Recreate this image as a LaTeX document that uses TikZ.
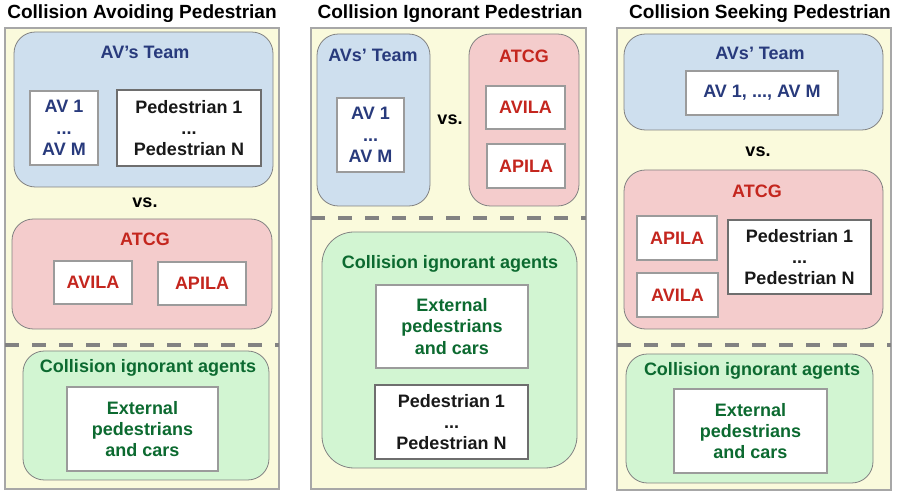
\documentclass[tikz,border=0pt]{standalone}
\usepackage{fontspec}
\setmainfont{Liberation Sans}
\usepackage{xcolor}
\usepackage{tikz}
\usetikzlibrary{positioning}
\definecolor{panelYellow}{HTML}{FAFADC}
\definecolor{teamBlue}{HTML}{CEDFEE}
\definecolor{atcgRed}{HTML}{F4CCCC}
\definecolor{ignGreen}{HTML}{D2F5D2}
\definecolor{edgeGray}{HTML}{828282}
\definecolor{txtBlue}{HTML}{283A7C}
\definecolor{txtRed}{HTML}{C4261E}
\definecolor{txtGreen}{HTML}{0C6A30}
\newcommand{\titlefont}{\fontsize{14.3}{17}\selectfont\bfseries}
\newcommand{\cellfont}{\fontsize{13.5}{16}\selectfont\bfseries}
\tikzstyle{panel} = [rectangle, draw = edgeGray!70, fill = panelYellow, line width = 0.8pt]
\tikzstyle{team} = [rectangle, rounded corners = 16pt, draw = edgeGray, fill = teamBlue, line width = 0.6pt]
\tikzstyle{atcg} = [team, fill = atcgRed]
\tikzstyle{ign} = [team, fill = ignGreen]
\tikzstyle{cell} = [rectangle, draw = edgeGray!80, fill = white, line width = 0.8pt, align = center, font = \cellfont]
\tikzstyle{pedcell} = [cell, draw = edgeGray!85!black, line width = 2pt, text = black!90]
\tikzstyle{lbl} = [font = \cellfont]
\tikzstyle{title} = [font = \titlefont]
\tikzstyle{sep} = [line width = 3pt, draw = edgeGray, dash pattern = on 10.5pt off 9.75pt]

\begin{document}
\begin{tikzpicture}[x = 0.75pt, y = -0.75pt]
        \useasboundingbox (0,0) rectangle (907,491);
        % three panels
        \node(panel1) [panel, minimum width = 205.5pt, minimum height = 345.75pt] at (142,258.5) {};
        \node(panel2) [panel, minimum width = 206.25pt, minimum height = 345.75pt] at (448.5,258.5) {};
        \node(panel3) [panel, minimum width = 205.5pt, minimum height = 346.5pt] at (754,259) {};
        \node(title1) [title] at (142,14) {Collision Avoiding Pedestrian};
        \node(title2) [title] at (450,14) {Collision Ignorant Pedestrian};
        \node(title3) [title] at (760,14) {Collision Seeking Pedestrian};
        \coordinate(sepL1) at (5,345);
        \coordinate(sepR1) at (279,345);
        \coordinate(sepL2) at (311,218);
        \coordinate(sepR2) at (586,218);
        \coordinate(sepL3) at (617,345);
        \coordinate(sepR3) at (891,345);
        \draw[sep] (sepL1) -- (sepR1);
        \draw[sep] (sepL2) -- (sepR2);
        \draw[sep] (sepL3) -- (sepR3);

        % panel 1
        \node(team1) [team, minimum width = 194.25pt, minimum height = 116.25pt] at (143.5,109.5) {};
        \node(team1lbl) [lbl, text = txtBlue] at (145,52) {AV’s Team};
        \node(av1) [cell, text = txtBlue, minimum width = 51pt, minimum height = 55.5pt] at (64,128) {AV 1\\...\\AV M};
        \node(ped1) [pedcell, minimum width = 108pt, minimum height = 57pt] at (189,128) {Pedestrian 1\\...\\Pedestrian N};
        \node(vs1) [lbl] at (145,203) {vs.};
        \node(atcg1) [atcg, minimum width = 195pt, minimum height = 82.5pt] at (142,274) {};
        \node(atcg1lbl) [lbl, text = txtRed] at (145,239) {ATCG};
        \node(avila1) [cell, text = txtRed, minimum width = 58.5pt, minimum height = 32.25pt] at (93,282.5) {AVILA};
        \node(apila1) [cell, text = txtRed, minimum width = 66pt, minimum height = 32.25pt] at (202,283.5) {APILA};
        \node(ign1) [ign, minimum width = 184.5pt, minimum height = 96.75pt] at (146,415.5) {};
        \node(ign1lbl) [lbl, text = txtGreen] at (148,368) {Collision ignorant agents};
        \node(ext1) [cell, text = txtGreen, minimum width = 113.25pt, minimum height = 63pt] at (142.5,429) {External\\pedestrians\\and cars};

        % panel 2
        \node(team2) [team, minimum width = 84.75pt, minimum height = 129pt] at (373.5,120) {};
        \node(team2lbl) [lbl, text = txtBlue] at (373,55) {AVs’ Team};
        \node(av2) [cell, text = txtBlue, minimum width = 50.25pt, minimum height = 55.5pt] at (370.5,135) {AV 1\\...\\AV M};
        \node(vs2) [lbl] at (450,120) {vs.};
        \node(atcg2) [atcg, minimum width = 82.5pt, minimum height = 129pt] at (524,120) {};
        \node(atcg2lbl) [lbl, text = txtRed] at (524,56) {ATCG};
        \node(avila2) [cell, text = txtRed, minimum width = 59.25pt, minimum height = 32.25pt] at (525.5,107.5) {AVILA};
        \node(apila2) [cell, text = txtRed, minimum width = 58.5pt, minimum height = 33pt] at (526,166) {APILA};
        \node(ign2) [ign, rounded corners = 24pt, minimum width = 191.25pt, minimum height = 177pt] at (449.5,350) {};
        \node(ign2lbl) [lbl, text = txtGreen] at (450,264) {Collision ignorant agents};
        \node(ext2) [cell, text = txtGreen, minimum width = 114pt, minimum height = 62.25pt] at (452,326.5) {External\\pedestrians\\and cars};
        \node(ped2) [pedcell, minimum width = 114.75pt, minimum height = 55.5pt] at (451.5,422) {Pedestrian 1\\...\\Pedestrian N};

        % panel 3
        \node(team3) [team, minimum width = 194.25pt, minimum height = 72pt] at (753.5,82) {};
        \node(team3lbl) [lbl, text = txtBlue] at (760,53) {AVs’ Team};
        \node(av3) [cell, text = txtBlue, minimum width = 114pt, minimum height = 33pt] at (762,93) {AV 1, ..., AV M};
        \node(vs3) [lbl] at (758,152) {vs.};
        \node(atcg3) [atcg, minimum width = 194.25pt, minimum height = 119.25pt] at (753.5,249.5) {};
        \node(atcg3lbl) [lbl, text = txtRed] at (757,191) {ATCG};
        \node(apila3) [cell, text = txtRed, minimum width = 60pt, minimum height = 33pt] at (677,238) {APILA};
        \node(avila3) [cell, text = txtRed, minimum width = 60.75pt, minimum height = 33pt] at (677.5,295) {AVILA};
        \node(ped3) [pedcell, minimum width = 107.25pt, minimum height = 55.5pt] at (799.5,257) {Pedestrian 1\\...\\Pedestrian N};
        \node(ign3) [ign, minimum width = 185.25pt, minimum height = 96.75pt] at (749.5,418.5) {};
        \node(ign3lbl) [lbl, text = txtGreen] at (752,371) {Collision ignorant agents};
        \node(ext3) [cell, text = txtGreen, minimum width = 114.75pt, minimum height = 63pt] at (750.5,431) {External\\pedestrians\\and cars};
    \end{tikzpicture}
\end{document}
